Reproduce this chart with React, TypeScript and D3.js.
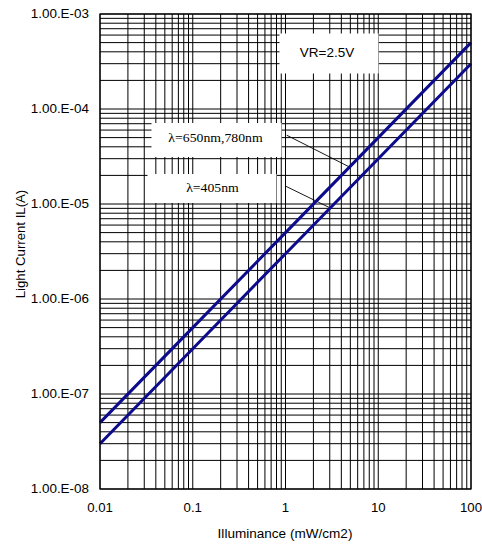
import React from "react";
import * as d3 from "d3";

// ---- data ----
const illuminance = [0.01, 0.1, 1, 10, 100]; // mW/cm2
const current650_780 = [5e-8, 5e-7, 5e-6, 5e-5, 5e-4]; // A
const current405 = [3e-8, 3e-7, 3e-6, 3e-5, 3e-4]; // A
const xTickValues = [0.01, 0.1, 1, 10, 100];
const xTickLabels = ["0.01", "0.1", "1", "10", "100"];
const yTickValues = [1e-8, 1e-7, 1e-6, 1e-5, 1e-4, 1e-3];
const yTickLabels = ["1.00.E-08", "1.00.E-07", "1.00.E-06", "1.00.E-05", "1.00.E-04", "1.00.E-03"];
// leader lines: [E start, IL start, E end, IL end]
const leader650 = [1.03, 5.3e-5, 4.9, 2.45e-5];
const leader405 = [0.99, 1.55e-5, 3.03, 9.1e-6];

const W = 482, H = 545;
const L = 100, R = 471, T = 14, B = 489;

export default function App() {
  const x = d3.scaleLog().domain([0.01, 100]).range([L, R]);
  const y = d3.scaleLog().domain([1e-8, 1e-3]).range([B, T]);

  const vGrid: number[] = [];
  for (let d = -2; d <= 1; d++) for (let k = 1; k <= 9; k++) vGrid.push(k * Math.pow(10, d));
  vGrid.push(100);
  const hGrid: number[] = [];
  for (let d = -8; d <= -4; d++) for (let k = 1; k <= 9; k++) hGrid.push(k * Math.pow(10, d));
  hGrid.push(1e-3);

  const line = d3
    .line<[number, number]>()
    .x((d) => x(d[0]))
    .y((d) => y(d[1]));
  const s1 = illuminance.map((e, i) => [e, current650_780[i]] as [number, number]);
  const s2 = illuminance.map((e, i) => [e, current405[i]] as [number, number]);

  const sans = "Arial, 'Liberation Sans', sans-serif";
  const serif = "'Times New Roman', 'Liberation Serif', serif";
  const navy = "#0b0b8c";

  return (
    <svg width={W} height={H} style={{ position: "absolute", left: 0, top: 0, background: "#fff" }}>
      <rect x={0} y={0} width={W} height={H} fill="#fff" />
      <g stroke="#000" strokeWidth={1}>
        {vGrid.map((v, i) => (
          <line key={"v" + i} x1={x(v)} x2={x(v)} y1={T} y2={B} />
        ))}
        {hGrid.map((v, i) => (
          <line key={"h" + i} x1={L} x2={R} y1={y(v)} y2={y(v)} />
        ))}
      </g>

      {/* annotation boxes */}
      <rect x={279.5} y={33.5} width={99} height={40} fill="#fff" />
      <text x={327} y={57} textAnchor="middle" fontFamily={sans} fontSize={13.5} fill="#000">
        VR=2.5V
      </text>
      <rect x={151.5} y={123} width={130} height={34} fill="#fff" />
      <text transform="translate(215.5,141.7) scale(1.12,1)" textAnchor="middle" fontFamily={serif} fontSize={12.3} fill="#000">
        λ=650nm,780nm
      </text>
      <rect x={147.5} y={174} width={129} height={29} fill="#fff" />
      <text transform="translate(212.5,191.7) scale(1.12,1)" textAnchor="middle" fontFamily={serif} fontSize={12.3} fill="#000">
        λ=405nm
      </text>

      {/* leaders */}
      <line x1={x(leader650[0])} y1={y(leader650[1])} x2={x(leader650[2])} y2={y(leader650[3])} stroke="#000" strokeWidth={0.9} />
      <line x1={x(leader405[0])} y1={y(leader405[1])} x2={x(leader405[2])} y2={y(leader405[3])} stroke="#000" strokeWidth={0.9} />

      {/* curves */}
      <path d={line(s1) || ""} fill="none" stroke={navy} strokeWidth={3} />
      <path d={line(s2) || ""} fill="none" stroke={navy} strokeWidth={3} />

      {/* frame */}
      <rect x={L} y={T} width={R - L} height={B - T} fill="none" stroke="#000" strokeWidth={1.2} />

      {/* y tick labels */}
      {yTickValues.map((v, i) => (
        <text
          key={"yt" + i}
          transform={`translate(89,${y(v) + 4.3}) scale(1.12,1)`}
          textAnchor="end"
          fontFamily={sans}
          fontSize={12}
          fill="#000"
        >
          {yTickLabels[i]}
        </text>
      ))}
      {/* x tick labels */}
      {xTickValues.map((v, i) => (
        <text
          key={"xt" + i}
          transform={`translate(${x(v)},${512}) scale(1.1,1)`}
          textAnchor="middle"
          fontFamily={sans}
          fontSize={12}
          fill="#000"
        >
          {xTickLabels[i]}
        </text>
      ))}
      <text transform="translate(285,538) scale(1.13,1)" textAnchor="middle" fontFamily={sans} fontSize={12} fill="#000">
        Illuminance (mW/cm2)
      </text>
      <text
        transform="translate(25,244) rotate(-90) scale(1.1,1)"
        textAnchor="middle"
        fontFamily={sans}
        fontSize={12}
        fill="#000"
      >
        Light Current IL(A)
      </text>
    </svg>
  );
}
